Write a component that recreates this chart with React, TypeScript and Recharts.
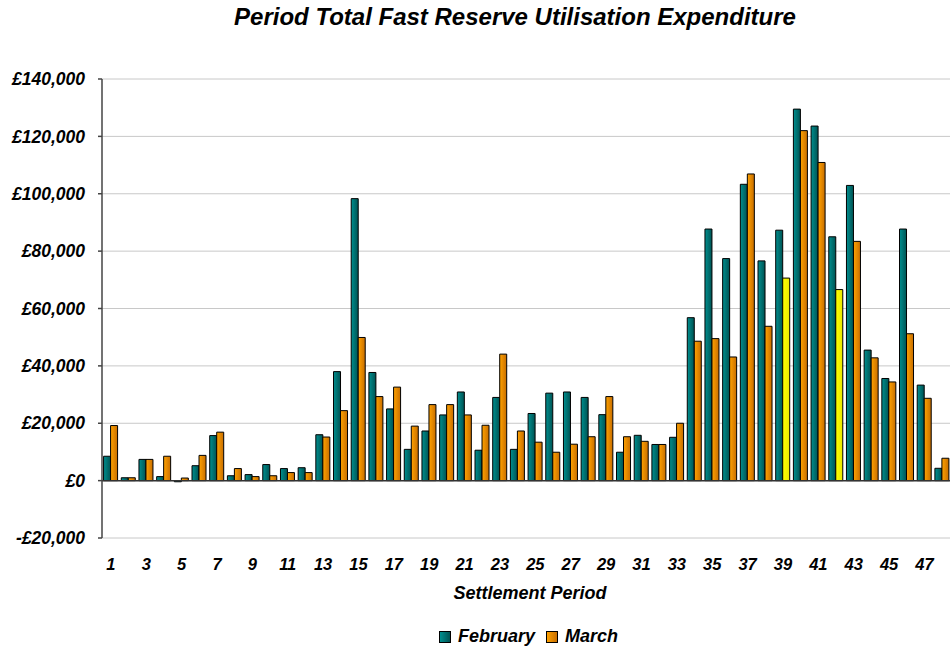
import React from "react";
import { BarChart, Bar, XAxis, YAxis, CartesianGrid, ReferenceLine, Cell } from "recharts";

const FONT = '"Liberation Sans", Arial, sans-serif';

const periods = Array.from({ length: 48 }, (_, i) => String(i + 1));

const february = [
  8500, 1000, 7400, 1400, -400, 5200, 15700, 1700, 2100, 5600, 4200, 4500,
  16000, 38000, 98300, 37700, 25000, 10900, 17300, 22900, 30900, 10600, 29000, 10900,
  23400, 30500, 30900, 29000, 23000, 9900, 15800, 12600, 15100, 56800, 87700, 77400,
  103300, 76600, 87300, 129500, 123600, 85000, 102900, 45500, 35600, 87700, 33300, 4300,
];

const march = [
  19200, 1000, 7400, 8500, 900, 8800, 16900, 4200, 1400, 1700, 2800, 2800,
  15200, 24400, 49900, 29300, 32600, 19000, 26500, 26500, 22900, 19300, 44100, 17300,
  13400, 9900, 12700, 15300, 29300, 15300, 13700, 12600, 20000, 48600, 49500, 43100,
  106900, 53800, 70600, 122000, 110900, 66600, 83400, 42800, 34400, 51200, 28700, 7800,
];

// March periods drawn in yellow
const highlighted = ["39", "42"];

const yTicks = [-20000, 0, 20000, 40000, 60000, 80000, 100000, 120000, 140000];

const data = periods.map((p, i) => ({ period: p, feb: february[i], mar: march[i] }));

const fmtPound = (v: number) =>
  (v < 0 ? "-£" : "£") + Math.abs(v).toLocaleString("en-GB");

const textStyle: React.CSSProperties = {
  position: "absolute",
  fontFamily: FONT,
  fontWeight: "bold",
  fontStyle: "italic",
  color: "#000",
  whiteSpace: "nowrap",
};

export default function App() {
  return (
    <div
      style={{
        position: "fixed",
        left: 0,
        top: 0,
        width: 950,
        height: 648,
        overflow: "hidden",
        background: "#fff",
      }}
    >
      <div style={{ ...textStyle, left: 0, width: 1030, top: 3, textAlign: "center", fontSize: 24 }}>
        Period Total Fast Reserve Utilisation Expenditure
      </div>

      <div style={{ position: "absolute", left: 0, top: 0 }}>
        <BarChart
          width={962}
          height={648}
          data={data}
          margin={{ top: 79, right: 11, bottom: 80, left: 8 }}
          barCategoryGap="9%"
          barGap={0}
        >
          <defs>
            <linearGradient id="gTeal" x1="0" y1="0" x2="1" y2="0">
              <stop offset="0%" stopColor="#008f8f" />
              <stop offset="100%" stopColor="#005353" />
            </linearGradient>
            <linearGradient id="gOrange" x1="0" y1="0" x2="1" y2="0">
              <stop offset="0%" stopColor="#ffa200" />
              <stop offset="100%" stopColor="#c86e00" />
            </linearGradient>
            <linearGradient id="gYellow" x1="0" y1="0" x2="1" y2="0">
              <stop offset="0%" stopColor="#ffff00" />
              <stop offset="100%" stopColor="#e8e800" />
            </linearGradient>
          </defs>
          <CartesianGrid vertical={false} stroke="#c8c8c8" />
          <XAxis
            dataKey="period"
            interval={1}
            height={30}
            axisLine={false}
            tickLine={false}
            tickSize={0}
            tickMargin={20}
            tick={{ fill: "#000", fontFamily: FONT, fontWeight: "bold", fontStyle: "italic", fontSize: 16.5 }}
          />
          <YAxis
            domain={[-20000, 140000]}
            ticks={yTicks}
            width={94}
            tickFormatter={fmtPound}
            tickSize={4}
            tickMargin={13}
            stroke="#444"
            strokeWidth={1.5}
            tick={{ fill: "#000", fontFamily: FONT, fontWeight: "bold", fontStyle: "italic", fontSize: 17.5 }}
          />
          <ReferenceLine y={0} stroke="#333" strokeWidth={1.5} />
          <Bar dataKey="feb" fill="url(#gTeal)" stroke="#000" strokeWidth={1} isAnimationActive={false} />
          <Bar dataKey="mar" fill="url(#gOrange)" stroke="#000" strokeWidth={1} isAnimationActive={false}>
            {data.map((d) => (
              <Cell key={d.period} fill={highlighted.includes(d.period) ? "url(#gYellow)" : "url(#gOrange)"} />
            ))}
          </Bar>
        </BarChart>
      </div>

      <div style={{ ...textStyle, left: 400, width: 260, top: 583, textAlign: "center", fontSize: 18 }}>
        Settlement Period
      </div>

      <div style={{ ...textStyle, left: 439, top: 626, fontSize: 18, display: "flex", alignItems: "center" }}>
        <span style={{ display: "inline-block", width: 10, height: 10, border: "1px solid #000", background: "linear-gradient(90deg,#008f8f,#005353)", marginRight: 7 }} />
        <span>February</span>
        <span style={{ display: "inline-block", width: 10, height: 10, border: "1px solid #000", background: "linear-gradient(90deg,#ffa200,#c86e00)", marginLeft: 11, marginRight: 7 }} />
        <span>March</span>
      </div>
    </div>
  );
}
